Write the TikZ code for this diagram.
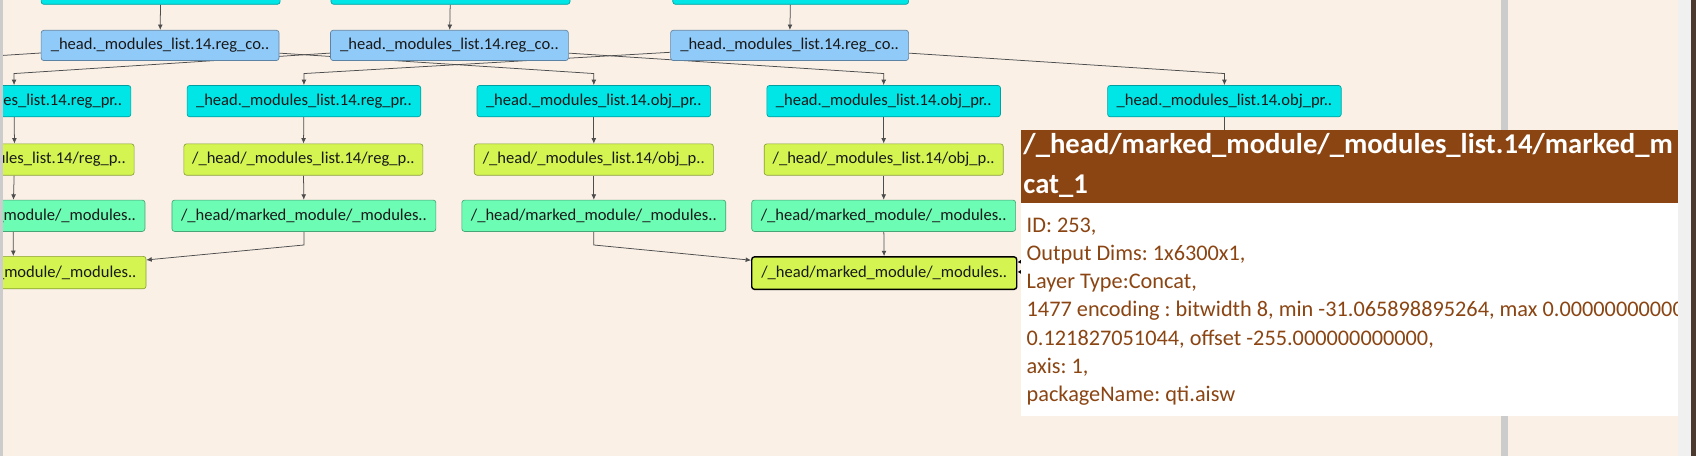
\documentclass[tikz,border=0pt]{standalone}
\usepackage{fontspec}
\setmainfont{Carlito}
\frenchspacing
\usetikzlibrary{graphs}
\usetikzlibrary{arrows.meta}
\definecolor{canvas}{HTML}{FAF0E6}
\definecolor{convblue}{HTML}{90CAF9}
\definecolor{predcyan}{HTML}{00E5E5}
\definecolor{opgreen}{HTML}{D3F451}
\definecolor{markmint}{HTML}{6CFCB4}
\definecolor{tipbrown}{HTML}{8B4513}
\definecolor{edgegrey}{HTML}{4D4D4D}
\definecolor{splitgrey}{HTML}{CCCCCC}
\definecolor{panelgrey}{HTML}{F0F0F0}
\definecolor{paneledge}{HTML}{4A3A30}
\pgfdeclarelayer{bg}
\pgfdeclarelayer{wires}
\pgfsetlayers{bg,wires,main}
\tikzset{
  box/.style= {rounded corners=2.5pt, inner sep=0pt, line width=0.6pt, text=black!90, font=\fontsize{15.3}{17}\selectfont},
  conv/.style= {box, draw=convblue!65!black, fill=convblue, minimum width=220pt, minimum height=28pt},
  pred/.style= {box, draw=predcyan!70!black, fill=predcyan, minimum width=216pt, minimum height=29pt},
  op/.style= {box, draw=opgreen!65!black, fill=opgreen, minimum width=221pt, minimum height=29pt},
  markbox/.style= {box, draw=markmint!65!black, fill=markmint, minimum width=244pt, minimum height=29pt},
  catbox/.style= {box, draw=opgreen!65!black, fill=opgreen, minimum width=245pt, minimum height=30pt},
  sel/.style= {draw=black, line width=1.3pt},
  wire/.style= {draw=edgegrey, line width=0.7pt},
  inwire/.style= {draw=black, line width=0.9pt, -{Latex[length=4.5pt,width=5.5pt]}},
  tiphead/.style= {anchor=base west, inner sep=0pt, text=white, font=\bfseries\fontsize{26.5}{30}\selectfont},
  tipline/.style= {anchor=base west, inner sep=0pt, text=tipbrown, font=\fontsize{20.6}{26}\selectfont},
  >={Latex[length=5pt,width=4.5pt]},
}

\begin{document}
\begin{tikzpicture}[x=1pt, y=-1pt]
  \useasboundingbox (0,0) rectangle (1568,422);
  \clip (0,0) rectangle (1568,422);
  \begin{pgfonlayer}{bg}
    \fill [canvas] (0,0) rectangle (1568,422);
  \end{pgfonlayer}

  % top row, cut off by the upper edge
  \node [pred, minimum width=221pt] (t1) at (148.5,-10.5) {};
  \node [pred, minimum width=221pt] (t2) at (416.5,-10.5) {};
  \node [pred, minimum width=218pt] (t3) at (731,-10.5) {};

  \node [conv] (r1) at (148,42) {\_head.\_modules\_list.14.reg\_co..};
  \node [conv] (r2) at (415.5,42) {\_head.\_modules\_list.14.reg\_co..};
  \node [conv] (r3) at (730,42) {\_head.\_modules\_list.14.reg\_co..};

  \node [pred] (p1) at (13,93.5) {\_head.\_modules\_list.14.reg\_pr..};
  \node [pred] (p2) at (281,93.5) {\_head.\_modules\_list.14.reg\_pr..};
  \node [pred] (p3) at (549,93.5) {\_head.\_modules\_list.14.obj\_pr..};
  \node [pred] (p4) at (817,93.5) {\_head.\_modules\_list.14.obj\_pr..};
  \node [pred] (p5) at (1132,93.5) {\_head.\_modules\_list.14.obj\_pr..};

  \node [op] (q1) at (13.5,147.5) {/\_head/\_modules\_list.14/reg\_p..};
  \node [op] (q2) at (280.5,147.5) {/\_head/\_modules\_list.14/reg\_p..};
  \node [op] (q3) at (549,147.5) {/\_head/\_modules\_list.14/obj\_p..};
  \node [op] (q4) at (817,147.5) {/\_head/\_modules\_list.14/obj\_p..};

  \node [markbox] (m1) at (12,199.5) {/\_head/marked\_module/\_modules..};
  \node [markbox] (m2) at (281,199.5) {/\_head/marked\_module/\_modules..};
  \node [markbox] (m3) at (549,199.5) {/\_head/marked\_module/\_modules..};
  \node [markbox] (m4) at (817,199.5) {/\_head/marked\_module/\_modules..};

  \node [catbox] (y1) at (12.5,252) {/\_head/marked\_module/\_modules..};
  \node [catbox, sel] (y2) at (817.5,252.5) {/\_head/marked\_module/\_modules..};

  % free ends off the canvas or under the tooltip
  \coordinate (p0) at (-261,68);
  \coordinate (q5) at (1132,160);
  \coordinate (m5) at (1132,226.5);
  \coordinate (n5) at (1100,250);

  \begin{pgfonlayer}{wires}
    \clip (0,0) rectangle (1568,422);
    \graph [edges=wire] {
      (t1) -> (r1) ; (t2) -> (r2) ; (t3) -> (r3) ;
      (p1) -> (q1) -> (m1) -> (y1) ;
      (p2) -> (q2) -> (m2) ;
      (p3) -> (q3) -> (m3) ;
      (p4) -> (q4) -> (m4) -> (y2) ;
      (p5) -> (q5) ;
    } ;
    \draw [wire] (r1) -- (p0);
    \draw [wire, ->] (r1) -- (p3.north |- 0,68) -- (p3);
    \draw [wire, ->] (r2) -- (p1.north |- 0,68) -- (p1);
    \draw [wire, ->] (r2) -- (p4.north |- 0,68) -- (p4);
    \draw [wire, ->] (r3) -- (p2.north |- 0,68) -- (p2);
    \draw [wire, ->] (r3) -- (p5.north |- 0,68) -- (p5);
    \draw [wire, ->] (m2) -- (m2.south |- 0,226.5) -- (y1);
    \draw [wire, ->] (m3) -- (m3.south |- 0,226.5) -- (y2);
  \end{pgfonlayer}
  \draw [inwire] (m5) -- (y2);
  \draw [inwire] (n5) -- (y2);

  % panel borders
  \fill [splitgrey] (0,0) rectangle (3,422);
  \fill [splitgrey] (1388,0) rectangle (1394,422);
  \fill [panelgrey] (1551,0) rectangle (1563,422);
  \fill [paneledge] (1563,0) rectangle (1568,422);

  % tooltip
  \fill [white] (944,188) rectangle (1551,385);
  \fill [tipbrown] (944,120) rectangle (1551,188);
  \begin{scope}
    \clip (944,120) rectangle (1551,385);
    \node [tiphead] (head1) at (946,142) {/\_head/marked\_module/\_modules\_list.14/marked\_m};
    \node [tiphead] (head2) at (946,179) {cat\_1};
    \node [tipline] (tid) at (949,215) {ID: 253,};
    \node [tipline] (tdims) at (949,241) {Output Dims: 1x6300x1,};
    \node [tipline] (ttype) at (949,267) {Layer Type:Concat,};
    \node [tipline] (tenc) at (949,293) {1477 encoding : bitwidth 8, min -31.065898895264, max 0.00000000000};
    \node [tipline] (tscale) at (949,319) {0.121827051044, offset -255.000000000000,};
    \node [tipline] (taxis) at (949,345) {axis: 1,};
    \node [tipline] (tpkg) at (949,371) {packageName: qti.aisw};
  \end{scope}
\end{tikzpicture}
\end{document}
